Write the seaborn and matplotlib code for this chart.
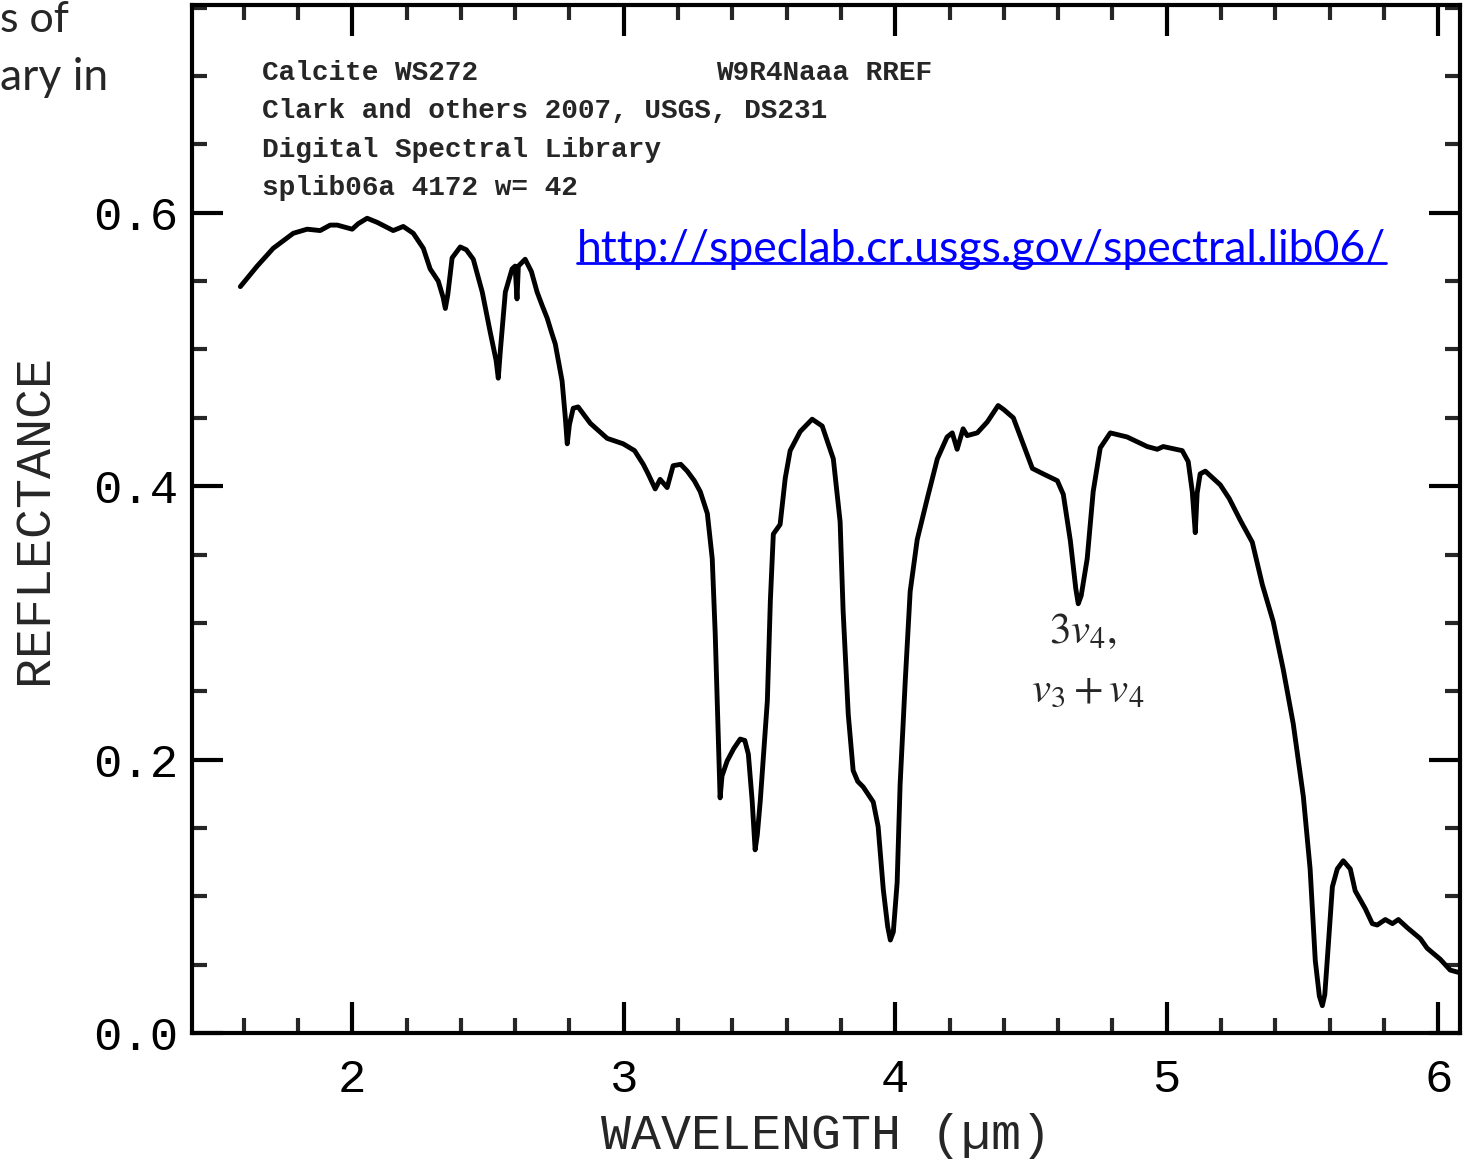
import matplotlib
matplotlib.use("Agg")
import matplotlib.pyplot as plt
import seaborn as sns
import numpy as np
import pandas as pd
from matplotlib.ticker import MultipleLocator

wavelength = [1.588, 1.650, 1.709, 1.783, 1.834, 1.882, 1.919, 1.945, 2.000, 2.022, 2.055, 2.092,
              2.151, 2.188, 2.225, 2.262, 2.287, 2.317, 2.335, 2.343, 2.352, 2.368, 2.398, 2.420,
              2.446, 2.479, 2.508, 2.530, 2.538, 2.546, 2.564, 2.589, 2.600, 2.607, 2.612, 2.637,
              2.660, 2.681, 2.700, 2.718, 2.735, 2.748, 2.773, 2.785, 2.792, 2.800, 2.814, 2.832,
              2.877, 2.939, 2.998, 3.040, 3.072, 3.090, 3.116, 3.134, 3.160, 3.182, 3.210, 3.234,
              3.260, 3.282, 3.308, 3.326, 3.337, 3.348, 3.355, 3.362, 3.381, 3.405, 3.429, 3.446,
              3.459, 3.473, 3.484, 3.492, 3.503, 3.529, 3.540, 3.551, 3.576, 3.595, 3.613, 3.650,
              3.694, 3.731, 3.772, 3.797, 3.808, 3.827, 3.845, 3.862, 3.882, 3.919, 3.937, 3.956,
              3.972, 3.982, 3.993, 4.007, 4.018, 4.037, 4.055, 4.081, 4.118, 4.155, 4.191, 4.210,
              4.228, 4.250, 4.265, 4.302, 4.339, 4.379, 4.400, 4.435, 4.471, 4.505, 4.545, 4.597,
              4.619, 4.645, 4.665, 4.674, 4.685, 4.707, 4.729, 4.755, 4.792, 4.854, 4.928, 4.965,
              4.987, 5.057, 5.079, 5.094, 5.105, 5.112, 5.123, 5.142, 5.197, 5.230, 5.271, 5.315,
              5.352, 5.392, 5.429, 5.466, 5.503, 5.528, 5.547, 5.562, 5.573, 5.582, 5.591, 5.610,
              5.628, 5.650, 5.676, 5.694, 5.731, 5.757, 5.775, 5.805, 5.831, 5.853, 5.886, 5.934,
              5.959, 6.007, 6.044, 6.081, 6.10]
reflectance = [0.546, 0.561, 0.574, 0.585, 0.588, 0.587, 0.591, 0.591, 0.588, 0.592, 0.596, 0.593,
               0.587, 0.590, 0.585, 0.574, 0.559, 0.550, 0.538, 0.530, 0.540, 0.567, 0.575, 0.573,
               0.566, 0.542, 0.513, 0.492, 0.479, 0.500, 0.542, 0.559, 0.561, 0.537, 0.561, 0.566,
               0.557, 0.542, 0.532, 0.523, 0.512, 0.504, 0.477, 0.450, 0.431, 0.445, 0.457, 0.458,
               0.446, 0.435, 0.431, 0.426, 0.416, 0.409, 0.398, 0.405, 0.399, 0.415, 0.416, 0.411,
               0.404, 0.396, 0.380, 0.347, 0.292, 0.219, 0.172, 0.188, 0.199, 0.208, 0.215, 0.214,
               0.204, 0.170, 0.134, 0.145, 0.170, 0.243, 0.316, 0.365, 0.372, 0.406, 0.426, 0.440,
               0.449, 0.444, 0.420, 0.374, 0.309, 0.233, 0.192, 0.184, 0.180, 0.169, 0.151, 0.105,
               0.078, 0.068, 0.074, 0.110, 0.182, 0.258, 0.323, 0.361, 0.391, 0.420, 0.436, 0.439,
               0.427, 0.442, 0.437, 0.439, 0.447, 0.459, 0.456, 0.450, 0.431, 0.413, 0.409, 0.404,
               0.394, 0.360, 0.325, 0.314, 0.320, 0.347, 0.396, 0.428, 0.439, 0.436, 0.429, 0.427,
               0.429, 0.426, 0.418, 0.396, 0.366, 0.395, 0.409, 0.411, 0.401, 0.391, 0.375, 0.359,
               0.328, 0.301, 0.266, 0.226, 0.173, 0.120, 0.053, 0.027, 0.020, 0.028, 0.053, 0.107,
               0.120, 0.126, 0.120, 0.104, 0.091, 0.080, 0.079, 0.083, 0.080, 0.083, 0.077, 0.069,
               0.062, 0.054, 0.046, 0.044, 0.042]

x_ticks = [2, 3, 4, 5, 6]
y_ticks = [0.0, 0.2, 0.4, 0.6]

header_lines = ["Calcite WS272", "Clark and others 2007, USGS, DS231",
                "Digital Spectral Library", "splib06a 4172 w= 42"]
header_right = "W9R4Naaa RREF"
url_text = "http://speclab.cr.usgs.gov/spectral.lib06/"

sns.set_style("ticks")
plt.rcParams['font.family'] = ['Liberation Mono', 'DejaVu Sans']

fig = plt.figure(figsize=(14.63, 11.61), dpi=100)
ax = fig.add_axes([192/1463, 1 - 1033/1161, (1460-192)/1463, (1033-5)/1161])

df = pd.DataFrame({"wavelength": wavelength, "reflectance": reflectance})
sns.lineplot(data=df, x="wavelength", y="reflectance", ax=ax, color="black",
             linewidth=3.5, sort=False)
for ln in ax.get_lines():
    ln.set_solid_joinstyle("round")

ax.set_xlim(1.41, 6.08)
ax.set_ylim(0.0, 0.752)
ax.xaxis.set_major_locator(plt.FixedLocator(x_ticks))
ax.yaxis.set_major_locator(plt.FixedLocator(y_ticks))
ax.xaxis.set_minor_locator(MultipleLocator(0.2))
ax.yaxis.set_minor_locator(MultipleLocator(0.05))
ax.set_xticklabels([str(v) for v in x_ticks])
ax.set_yticklabels([f"{v:.1f}" for v in y_ticks])

for s in ax.spines.values():
    s.set_visible(True)
    s.set_linewidth(3.0)
    s.set_color("black")

ax.tick_params(which="major", direction="in", length=22, width=3.0, top=True, right=True,
               labelsize=34, colors="black")
ax.tick_params(which="minor", direction="in", length=11, width=3.0, top=True, right=True)
ax.tick_params(axis="x", which="major", pad=18)
ax.tick_params(axis="y", which="major", pad=10)

ax.set_xlabel("WAVELENGTH (\u00b5m)", fontsize=36, labelpad=8)
ax.set_ylabel("REFLECTANCE", fontsize=36, labelpad=26)

ys = [0.934, 0.897, 0.859, 0.822]
for line, yy in zip(header_lines, ys):
    ax.text(0.0552, yy, line, transform=ax.transAxes, fontsize=20, fontweight="bold",
            va="center", ha="left")
ax.text(0.413, 0.934, header_right, transform=ax.transAxes, fontsize=20, fontweight="bold",
        va="center", ha="left")

url = ax.text(0.3036, 0.762, url_text, transform=ax.transAxes, fontsize=32, color="#0000ff",
              va="center", ha="left", family=["Lato", "DejaVu Sans"])

ax.text(0.7027, 0.390, r"$3v_4,$", transform=ax.transAxes, fontsize=31, ha="center",
        va="center", math_fontfamily="stix")
ax.text(0.7066, 0.3337, r"$v_3 + v_4$", transform=ax.transAxes, fontsize=31, ha="center",
        va="center", math_fontfamily="stix")

fig.text(0.0, 1 - 32/1161, "s of", fontsize=31, ha="left", va="baseline",
         family=["Lato", "DejaVu Sans"])
fig.text(0.0, 1 - 90/1161, "ary in", fontsize=32, ha="left", va="baseline",
         family=["Lato", "DejaVu Sans"])

fig.canvas.draw()
r = fig.canvas.get_renderer()
bb = url.get_window_extent(renderer=r)
inv = fig.transFigure.inverted()
(x0, y0), (x1, y1) = inv.transform([(bb.x0, bb.y0 + 0.17 * bb.height), (bb.x1, bb.y0)])
fig.add_artist(plt.Line2D([x0, x1], [y0, y0], color="#0000ff", linewidth=2.0,
                          transform=fig.transFigure))

fig.savefig("out.png", dpi=100)
